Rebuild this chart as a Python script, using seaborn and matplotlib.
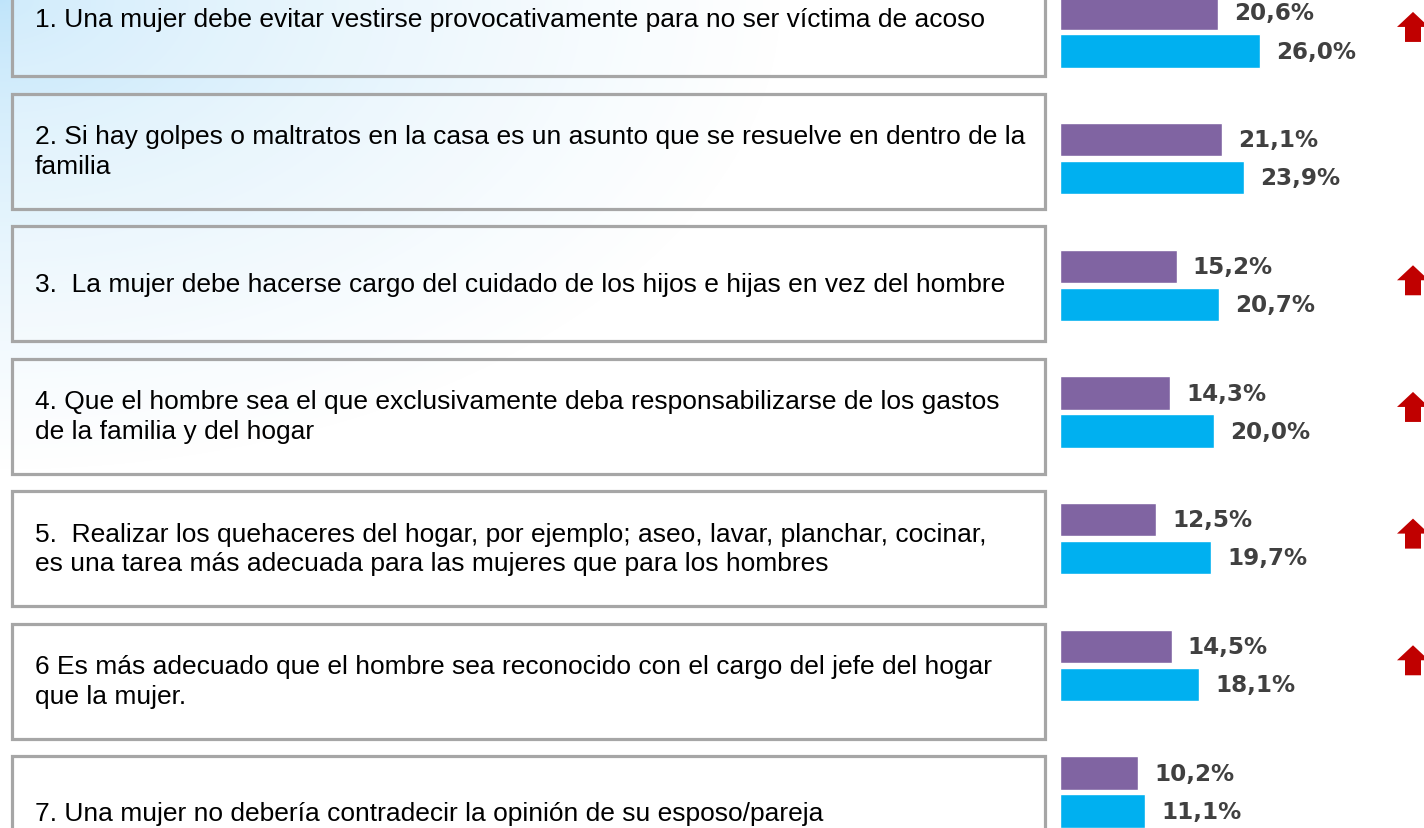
import numpy as np
import pandas as pd
import matplotlib
matplotlib.use("Agg")
import matplotlib.pyplot as plt
from matplotlib.patches import Rectangle, Polygon
import seaborn as sns

# ---- data -------------------------------------------------------------
statements = [
    "1. Una mujer debe evitar vestirse provocativamente para no ser víctima de acoso",
    "2. Si hay golpes o maltratos en la casa es un asunto que se resuelve en dentro de la\nfamilia",
    "3.  La mujer debe hacerse cargo del cuidado de los hijos e hijas en vez del hombre",
    "4. Que el hombre sea el que exclusivamente deba responsabilizarse de los gastos\nde la familia y del hogar",
    "5.  Realizar los quehaceres del hogar, por ejemplo; aseo, lavar, planchar, cocinar,\nes una tarea más adecuada para las mujeres que para los hombres",
    "6 Es más adecuado que el hombre sea reconocido con el cargo del jefe del hogar\nque la mujer.",
    "7. Una mujer no debería contradecir la opinión de su esposo/pareja",
]
series_names = ["Anterior", "Actual"]
values_prev = [20.6, 21.1, 15.2, 14.3, 12.5, 14.5, 10.2]
values_curr = [26.0, 23.9, 20.7, 20.0, 19.7, 18.1, 11.1]
increase_flag = [True, False, True, True, True, True, False]

items = [f"item{i + 1}" for i in range(len(statements))]
df = pd.DataFrame({
    "item": items * 2,
    "serie": [series_names[0]] * len(items) + [series_names[1]] * len(items),
    "valor": values_prev + values_curr,
})

# ---- style ------------------------------------------------------------
sns.set_theme(style="white")
plt.rcParams["font.family"] = ["Liberation Sans", "DejaVu Sans"]

PURPLE = "#8064A2"
CYAN = "#00B0F0"
ARROW_RED = "#C00000"
LABEL_GREY = "#404040"
BOX_EDGE = "#A6A6A6"

W, H = 1424, 829
fig = plt.figure(figsize=(W / 100, H / 100), dpi=100)

# ---- background with soft blue glow in the upper-left corner ----------
ax_bg = fig.add_axes([0, 0, 1, 1])
yy, xx = np.mgrid[0:H, 0:W]
t = np.sqrt((xx / 780.0) ** 2 + (yy / 470.0) ** 2)
t = np.clip(t, 0, 1) ** 0.7
c0 = np.array([190, 228, 250]) / 255.0
c1 = np.array([255, 255, 255]) / 255.0
img = c0[None, None, :] * (1 - t[..., None]) + c1[None, None, :] * t[..., None]
ax_bg.imshow(img, extent=(0, W, H, 0), aspect="auto", interpolation="bilinear")
ax_bg.set_xlim(0, W)
ax_bg.set_ylim(H, 0)
ax_bg.axis("off")

# ---- statement boxes --------------------------------------------------
box_left, box_right = 12, 1045
box_top0, box_step, box_h = -38, 132.5, 115
for i, text in enumerate(statements):
    top = box_top0 + i * box_step
    ax_bg.add_patch(Rectangle((box_left, top), box_right - box_left, box_h,
                              facecolor=(1, 1, 1, 0.25), edgecolor=BOX_EDGE,
                              linewidth=2.3))
    ax_bg.text(box_left + 23, top + box_h / 2, text, ha="left", va="center",
               fontsize=19, color="black", linespacing=1.3)

# ---- bars -------------------------------------------------------------
px_per_unit = 7.69
bar_x0 = 1060
ax = fig.add_axes([bar_x0 / W, 0, (W - bar_x0) / W, 1])
ax.patch.set_alpha(0)
sns.barplot(data=df, y="item", x="valor", hue="serie", order=items,
            hue_order=series_names, orient="h", palette=[PURPLE, CYAN],
            width=0.6, gap=0.13, errorbar=None, legend=False, ax=ax,
            saturation=1)

row_step = 126.67
row0 = 33
ax.set_xlim(0, (W - bar_x0) / px_per_unit)
ax.set_ylim((H - row0) / row_step, -row0 / row_step)
ax.axis("off")

for cont in ax.containers:
    vals = [b.get_width() for b in cont]
    ax.bar_label(cont, labels=[f"{v:.1f}%".replace(".", ",") for v in vals],
                 padding=11.5, fontsize=16.6, fontweight="bold",
                 color=LABEL_GREY, family="DejaVu Sans")

# ---- red "increase" arrows --------------------------------------------
arrow_x = (1413 - bar_x0) / px_per_unit
head_hw = 16 / px_per_unit
shaft_hw = 8 / px_per_unit
half_h = 15 / row_step
for i, up in enumerate(increase_flag):
    if not up:
        continue
    yc = i - 0.04
    pts = [
        (arrow_x, yc - half_h),
        (arrow_x + head_hw, yc),
        (arrow_x + shaft_hw, yc),
        (arrow_x + shaft_hw, yc + half_h),
        (arrow_x - shaft_hw, yc + half_h),
        (arrow_x - shaft_hw, yc),
        (arrow_x - head_hw, yc),
    ]
    ax.add_patch(Polygon(pts, closed=True, facecolor=ARROW_RED,
                         edgecolor="none", clip_on=False))

fig.savefig("out.png", dpi=100)
